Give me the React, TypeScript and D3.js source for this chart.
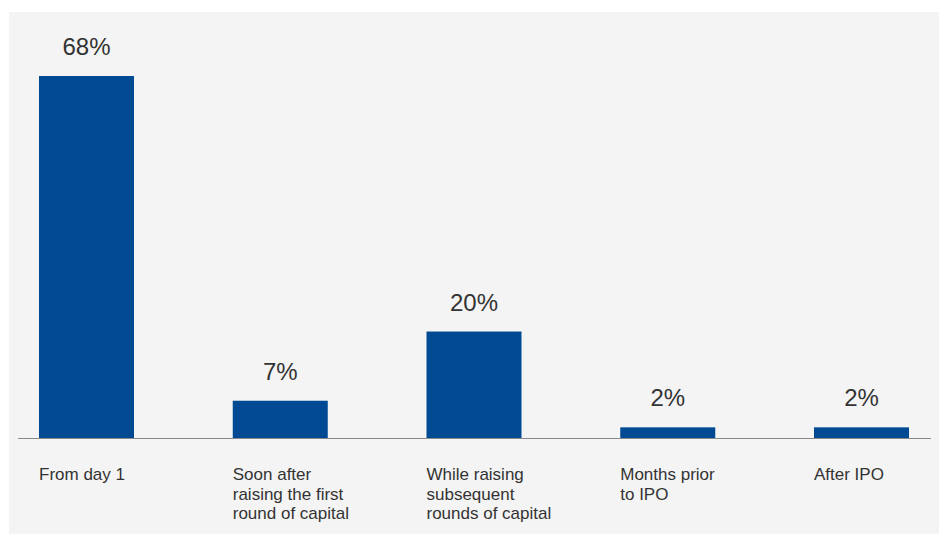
import React from "react";
import * as d3 from "d3";

const categories: string[][] = [
  ["From day 1"],
  ["Soon after", "raising the first", "round of capital"],
  ["While raising", "subsequent", "rounds of capital"],
  ["Months prior", "to IPO"],
  ["After IPO"],
];
const values: number[] = [68, 7, 20, 2, 2];
const valueLabels: string[] = ["68%", "7%", "20%", "2%", "2%"];

const W = 939;
const H = 535;
const FONT = "'Liberation Sans', Arial, Helvetica, sans-serif";

export default function App() {
  const keys = categories.map((_, i) => String(i));
  const x = d3
    .scaleBand<string>()
    .domain(keys)
    .range([39, 909])
    .paddingInner(1 - 95 / 193.75)
    .paddingOuter(0);
  const y = d3.scaleLinear().domain([0, 68]).range([438, 76]);

  return (
    <svg
      width={W}
      height={H}
      style={{ position: "absolute", left: 0, top: 0, display: "block" }}
    >
      <rect x={0} y={0} width={W} height={H} fill="#ffffff" />
      <rect x={9} y={12} width={930} height={522} fill="#f4f4f4" />
      {values.map((v, i) => (
        <rect
          key={"b" + i}
          x={x(keys[i])}
          y={y(v)}
          width={x.bandwidth()}
          height={y(0) - y(v)}
          fill="#004a93"
        />
      ))}
      <line x1={18} x2={931} y1={y(0) + 0.5} y2={y(0) + 0.5} stroke="#8a8a8a" strokeWidth={1.2} />
      {values.map((v, i) => (
        <text
          key={"v" + i}
          x={(x(keys[i]) as number) + x.bandwidth() / 2}
          y={y(v) - 21}
          textAnchor="middle"
          fontFamily={FONT}
          fontSize={24}
          fill="#333333"
        >
          {valueLabels[i]}
        </text>
      ))}
      {categories.map((lines, i) => (
        <text
          key={"c" + i}
          x={x(keys[i])}
          y={480}
          fontFamily={FONT}
          fontSize={17}
          fill="#333333"
        >
          {lines.map((l, j) => (
            <tspan key={j} x={x(keys[i])} dy={j === 0 ? 0 : 19.5}>
              {l}
            </tspan>
          ))}
        </text>
      ))}
    </svg>
  );
}
